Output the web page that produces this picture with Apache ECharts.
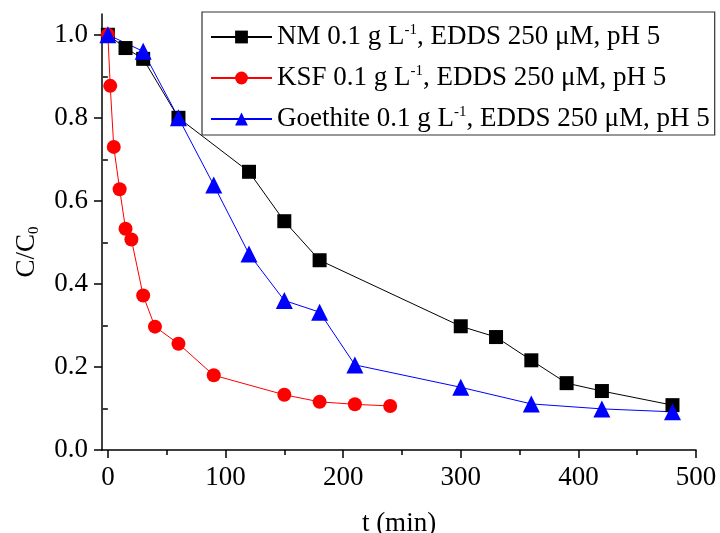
<!DOCTYPE html>
<html>
<head>
<meta charset="utf-8">
<script src="https://cdn.jsdelivr.net/npm/echarts@6/dist/echarts.min.js"></script>
<style>html,body{margin:0;padding:0;background:#fff;}#c{width:720px;height:533px;}</style>
</head>
<body>
<div id="c"></div>
<script>
const nmT = [0, 15, 30, 60, 120, 150, 180, 300, 330, 360, 390, 420, 480];
const nmV = [1.0, 0.968, 0.942, 0.80, 0.670, 0.551, 0.457, 0.298, 0.272, 0.216, 0.161, 0.142, 0.108];
const ksfT = [0, 2, 5, 10, 15, 20, 30, 40, 60, 90, 150, 180, 210, 240];
const ksfV = [1.0, 0.877, 0.730, 0.628, 0.533, 0.507, 0.372, 0.297, 0.256, 0.180, 0.133, 0.116, 0.110, 0.106];
const goeT = [0, 30, 60, 90, 120, 150, 180, 210, 300, 360, 420, 480];
const goeV = [1.0, 0.960, 0.800, 0.638, 0.472, 0.360, 0.332, 0.205, 0.151, 0.111, 0.099, 0.092];
const xMajor = [0, 100, 200, 300, 400, 500];
const xMinor = [50, 150, 250, 350, 450];
const yMajor = [0.0, 0.2, 0.4, 0.6, 0.8, 1.0];
const yMinor = [0.1, 0.3, 0.5, 0.7, 0.9];
const seriesNames = ['NM', 'KSF', 'Goethite'];

const FONT = 'Liberation Serif';
const zip = (a, b) => a.map((t, i) => [t, b[i]]);

const chart = echarts.init(document.getElementById('c'));
const axisLineStyle = {color: '#000', width: 1.5};
chart.setOption({
  animation: false,
  backgroundColor: '#fff',
  grid: {left: 102, right: 24, top: 14, bottom: 83, containLabel: false, outerBoundsMode: 'none'},
  legend: {
    orient: 'vertical',
    left: 202, top: 12,
    padding: [11, 5, 2, 8],
    itemGap: 13,
    itemWidth: 61, itemHeight: 16,
    borderColor: '#333', borderWidth: 1.2,
    data: seriesNames,
    formatter: n => n + ' 0.1 g L{sup|-1}, EDDS 250 μM, pH 5',
    textStyle: {
      fontFamily: FONT, fontSize: 27, color: '#000', lineHeight: 28,
      rich: {sup: {fontFamily: FONT, fontSize: 15, verticalAlign: 'top', lineHeight: 28}}
    }
  },
  xAxis: [{
    type: 'value', min: -5, max: 500,
    name: 't (min)', nameLocation: 'middle', nameGap: 60,
    nameTextStyle: {fontFamily: FONT, fontSize: 27, color: '#000'},
    axisLine: {show: true, onZero: false, lineStyle: axisLineStyle},
    axisTick: {show: true, length: 8, lineStyle: axisLineStyle, customValues: xMajor},
    axisLabel: {fontFamily: FONT, fontSize: 27, color: '#000', margin: 14, customValues: xMajor},
    splitLine: {show: false}
  }, {
    type: 'value', min: -5, max: 500, position: 'bottom',
    axisLine: {show: false},
    axisTick: {show: true, length: 5, lineStyle: axisLineStyle, customValues: xMinor},
    axisLabel: {show: false},
    splitLine: {show: false}
  }],
  yAxis: [{
    type: 'value', min: 0, max: 1.05,
    name: 'C/C{sub|0}', nameLocation: 'middle', nameGap: 60, nameRotate: 90,
    nameTextStyle: {fontFamily: FONT, fontSize: 27, color: '#000', padding: [0, 40, 0, 0],
      rich: {sub: {fontFamily: FONT, fontSize: 15, verticalAlign: 'bottom', lineHeight: 30}}},
    axisLine: {show: true, onZero: false, lineStyle: axisLineStyle},
    axisTick: {show: true, length: 8, lineStyle: axisLineStyle, customValues: yMajor},
    axisLabel: {fontFamily: FONT, fontSize: 27, color: '#000', margin: 14, customValues: yMajor,
      formatter: v => v.toFixed(1)},
    splitLine: {show: false}
  }, {
    type: 'value', min: 0, max: 1.05, position: 'left',
    axisLine: {show: false},
    axisTick: {show: true, length: 5, lineStyle: axisLineStyle, customValues: yMinor},
    axisLabel: {show: false},
    splitLine: {show: false}
  }],
  series: [{
    name: 'NM', type: 'line', data: zip(nmT, nmV),
    symbol: 'rect', symbolSize: 14,
    lineStyle: {color: '#000', width: 1}, itemStyle: {color: '#000'}
  }, {
    name: 'KSF', type: 'line', data: zip(ksfT, ksfV),
    symbol: 'circle', symbolSize: 14,
    lineStyle: {color: '#ff0000', width: 1}, itemStyle: {color: '#ff0000'}
  }, {
    name: 'Goethite', type: 'line', data: zip(goeT, goeV),
    symbol: 'triangle', symbolSize: 17,
    lineStyle: {color: '#0000ff', width: 1}, itemStyle: {color: '#0000ff'}
  }]
});
</script>
</body>
</html>
